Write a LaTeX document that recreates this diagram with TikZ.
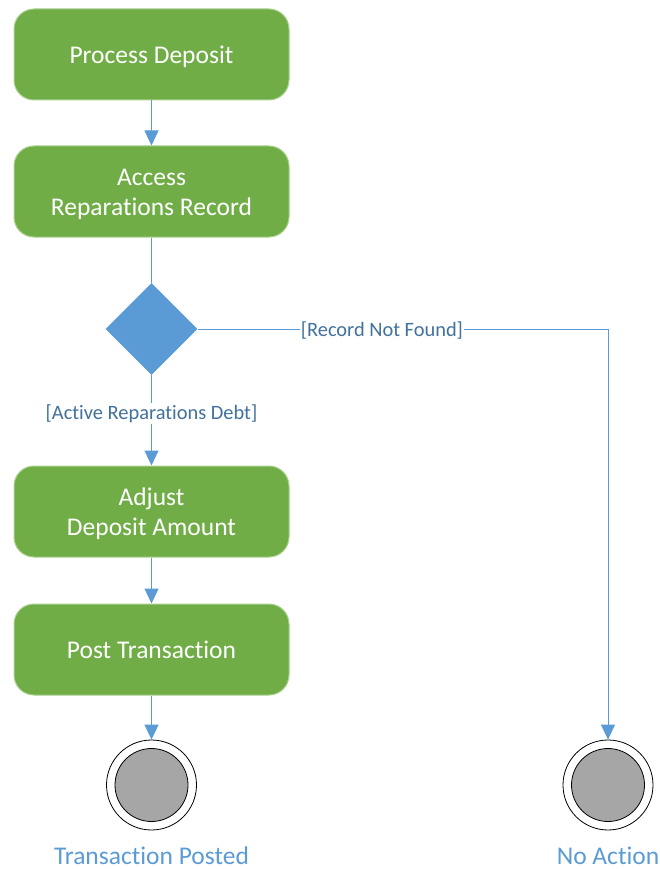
\documentclass[tikz,border=0pt]{standalone}
\usepackage{fontspec}
\setmainfont[Ligatures={NoCommon}]{Carlito}
\usetikzlibrary{arrows.meta,shapes.geometric}
\definecolor{boxgreen}{HTML}{70AD47}
\definecolor{boxedge}{HTML}{A9D18E}
\definecolor{flowblue}{HTML}{5B9BD5}
\definecolor{labblue}{HTML}{41719C}
\definecolor{endgray}{HTML}{A6A6A6}
\newcommand\boxtext[1]{\raisebox{-3pt}[\height][\depth]{\begin{tabular}{@{}c@{}}#1\end{tabular}}}
\tikzset{
  stepbox/.style={draw=boxedge, line width=1pt, fill=boxgreen, rounded corners=20pt,
    minimum width=275pt, minimum height=91pt, text=white,
    font=\fontsize{25.5}{30}\selectfont, inner sep=0pt},
  decision/.style={diamond, fill=flowblue, draw=none, minimum width=92pt, minimum height=92pt, inner sep=0pt},
  flow/.style={draw=flowblue, line width=1pt, -{Triangle[width=14pt,length=15pt]}},
  flowline/.style={draw=flowblue, line width=1pt},
  guard/.style={text=labblue, font=\fontsize{20.4}{22}\selectfont, inner sep=1pt, fill=white},
  endouter/.style={circle, draw=black, line width=0.8pt, fill=white, minimum size=90pt, inner sep=0pt},
  endinner/.style={circle, draw=black, line width=0.8pt, fill=endgray, minimum size=73pt, inner sep=0pt},
  endlabel/.style={text=flowblue, font=\fontsize{25.5}{28}\selectfont, inner sep=0pt, anchor=base}
}
\begin{document}
\begin{tikzpicture}[x=1pt,y=-1pt]
\useasboundingbox (0,0) rectangle (660,869);
\node[stepbox] (pd) at (151.5,54.5) {\boxtext{Process Deposit}};
\node[stepbox] (ar) at (151.5,191.5) {\boxtext{Access\\Reparations Record}};
\node[decision] (dec) at (151.5,329) {};
\node[stepbox] (ad) at (151.5,511.5) {\boxtext{Adjust\\Deposit Amount}};
\node[stepbox] (pt) at (151.5,649.5) {\boxtext{Post Transaction}};
\node[endouter] (e1o) at (151.5,785) {};
\node[endinner] (e1) at (151.5,785) {};
\node[endouter] (e2o) at (608,785) {};
\node[endinner] (e2) at (608,785) {};
\node[endlabel] (l1) at (151.5,864) {Transaction Posted};
\node[endlabel] (l2) at (608,864) {No Action};
\node[guard] (g1) at (151.5,413.5) {[Active Reparations Debt]};
\coordinate (corner) at (608,329);
\draw[flow] (pd) -- (ar);
\draw[flowline] (ar) -- (dec);
\draw[flowline] (dec.south) -- (g1.north);
\draw[flow] (g1.south) -- (ad.north);
\draw[flow] (ad) -- (pt);
\draw[flow] (pt) -- (e1o);
\draw[flow] (dec.east) -- node[guard, pos=0.449, yshift=-1.5pt] (g2) {[Record Not Found]} (corner) -- (e2o.north);
\end{tikzpicture}
\end{document}
